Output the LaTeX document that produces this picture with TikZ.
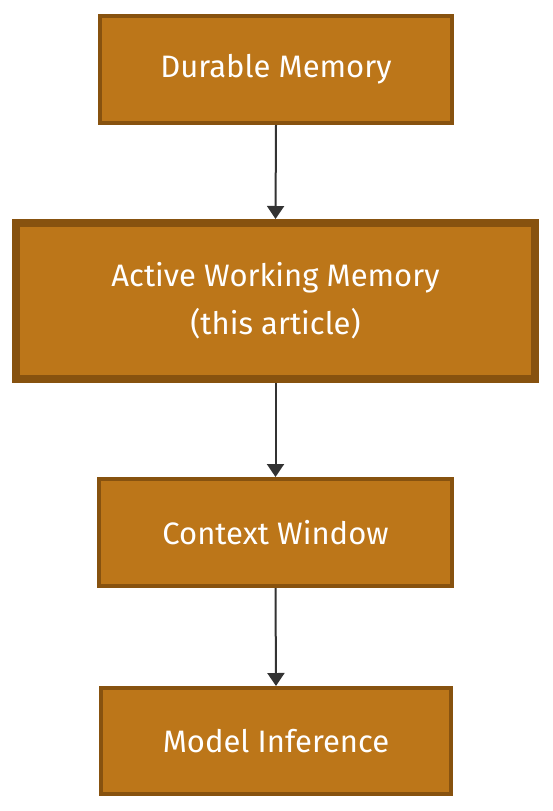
\documentclass[tikz,border=0pt]{standalone}
\usepackage{fontspec}
\setmainfont{Fira Sans}
\usetikzlibrary{arrows.meta}
\definecolor{boxfill}{HTML}{BC7619}
\definecolor{boxline}{HTML}{87520F}
\definecolor{arrowc}{HTML}{333333}
\tikzset{
  box/.style={draw=boxline, fill=boxfill, line width=4pt, text=white, font=\fontsize{31}{48}\selectfont, inner sep=0pt, align=center},
  conn/.style={draw=arrowc, line width=2pt, -{Triangle[length=13pt,width=17pt]}}
}
\begin{document}
\begin{tikzpicture}[x=1pt,y=-1pt]
\useasboundingbox (0,0) rectangle (552,811);
\node[box, minimum width=352pt, minimum height=107pt] (a) at (276,69.5) {Durable Memory};
\node[box, line width=8pt, minimum width=519pt, minimum height=156pt] (b) at (275.5,301) {Active Working Memory\\(this article)};
\node[box, minimum width=353pt, minimum height=107pt] (c) at (275.5,532.5) {Context Window};
\node[box, minimum width=350pt, minimum height=106pt] (d) at (276,741) {Model Inference};
\draw[conn] (a.south) -- (b.north);
\draw[conn] (b.south) -- (c.north);
\draw[conn] (c.south) -- (d.north);
\end{tikzpicture}
\end{document}
